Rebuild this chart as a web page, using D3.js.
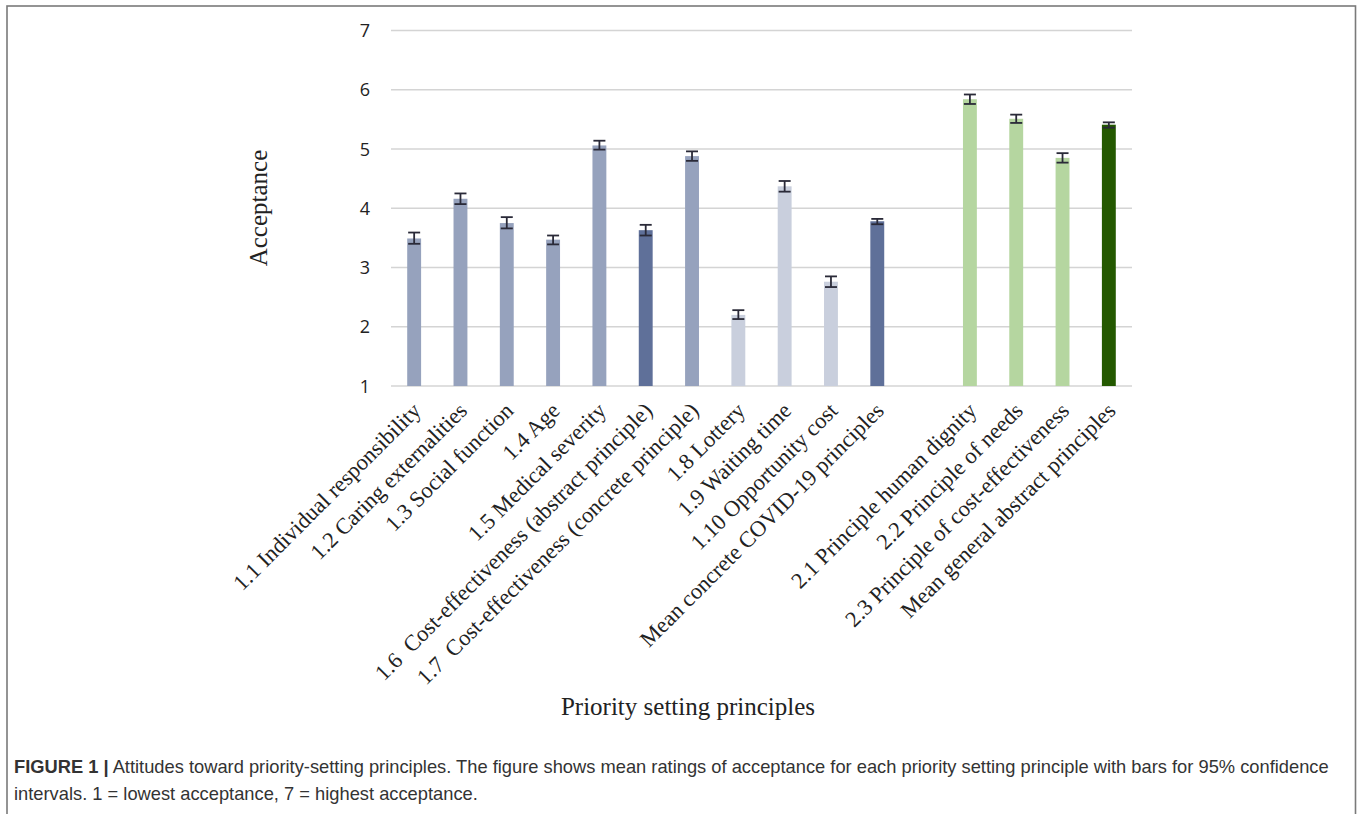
<!DOCTYPE html>
<html><head><meta charset="utf-8">
<script src="https://cdn.jsdelivr.net/npm/d3@7"></script>
<style>
html,body{margin:0;padding:0;background:#fff;}
svg{display:block;}
</style></head>
<body>
<svg id="chart" width="1360" height="814"></svg>
<script>
const categories = [
  "1.1 Individual responsibility",
  "1.2 Caring externalities",
  "1.3 Social function",
  "1.4 Age",
  "1.5 Medical severity",
  "1.6  Cost-effectiveness (abstract principle)",
  "1.7  Cost-effectiveness (concrete principle)",
  "1.8 Lottery",
  "1.9 Waiting time",
  "1.10 Opportunity cost",
  "Mean concrete COVID-19 principles",
  "",
  "2.1 Principle human dignity",
  "2.2 Principle of needs",
  "2.3 Principle of cost-effectiveness",
  "Mean general abstract principles"
];
const means = [3.49, 4.16, 3.75, 3.47, 5.06, 3.63, 4.88, 2.20, 4.37, 2.76, 3.78, null, 5.84, 5.51, 4.85, 5.41];
const ciLow  = [3.40, 4.07, 3.66, 3.39, 4.99, 3.54, 4.80, 2.13, 4.28, 2.67, 3.73, null, 5.76, 5.44, 4.77, 5.36];
const ciHigh = [3.59, 4.25, 3.85, 3.54, 5.14, 3.72, 4.96, 2.28, 4.46, 2.85, 3.82, null, 5.92, 5.58, 4.93, 5.45];
const groups = ["mid","mid","mid","mid","mid","dark","mid","light","light","light","dark",null,"green","green","green","darkgreen"];
const yTicks = [1, 2, 3, 4, 5, 6, 7];
const yTitle = "Acceptance";
const xTitle = "Priority setting principles";
const captionBold = "FIGURE 1 |";
const captionLine1 = " Attitudes toward priority-setting principles. The figure shows mean ratings of acceptance for each priority setting principle with bars for 95% confidence";
const captionLine2 = "intervals. 1 = lowest acceptance, 7 = highest acceptance.";

const colors = {mid:"#96a2bd", dark:"#5f7099", light:"#c9cfdd", green:"#b5d6a0", darkgreen:"#245900"};

(function(){
const svg = d3.select("#chart");
const pLeft = 391, pRight = 1132, pTop = 30.5, pBottom = 386;

// frame
svg.append("rect").attr("x",7).attr("y",6).attr("width",1348.5).attr("height",840)
  .attr("fill","none").attr("stroke","#7a7a7a").attr("stroke-width",1.6);

const keys = categories.map((c,i)=>"k"+i);
const x = d3.scaleBand().domain(keys).range([pLeft,pRight]).paddingInner(0.7).paddingOuter(0.35);
const y = d3.scaleLinear().domain([1,7]).range([pBottom, pTop]);

// gridlines
svg.append("g").selectAll("line").data(yTicks).join("line")
  .attr("x1",pLeft).attr("x2",pRight)
  .attr("y1",d=>y(d)).attr("y2",d=>y(d))
  .attr("stroke","#d4d4d4").attr("stroke-width",1.6);

// y axis labels
const yAxis = d3.axisLeft(y).tickValues(yTicks).tickSize(0).tickPadding(0).tickFormat(d3.format("d"));
const ya = svg.append("g").attr("transform",`translate(${pLeft-21},0)`).call(yAxis);
ya.select(".domain").remove();
ya.selectAll("text").attr("font-family","'Open Sans', sans-serif").attr("font-size",18).attr("fill","#222").attr("dy","0.34em");

// bars
const data = categories.map((c,i)=>({key:keys[i], cat:c, m:means[i], lo:ciLow[i], hi:ciHigh[i], g:groups[i]})).filter(d=>d.m!==null);
svg.append("g").selectAll("rect").data(data).join("rect")
  .attr("x",d=>x(d.key)).attr("width",x.bandwidth())
  .attr("y",d=>y(d.m)).attr("height",d=>y(1)-y(d.m))
  .attr("fill",d=>colors[d.g]);

// error bars
const eb = svg.append("g").attr("stroke","#2a2a38").attr("stroke-width",1.8).attr("fill","none");
data.forEach(d=>{
  const cx = x(d.key)+x.bandwidth()/2;
  eb.append("line").attr("x1",cx).attr("x2",cx).attr("y1",y(d.hi)).attr("y2",y(d.lo));
  eb.append("line").attr("x1",cx-6).attr("x2",cx+6).attr("y1",y(d.hi)).attr("y2",y(d.hi));
  eb.append("line").attr("x1",cx-6).attr("x2",cx+6).attr("y1",y(d.lo)).attr("y2",y(d.lo));
});

// x category labels
svg.append("g").selectAll("text").data(categories.map((c,i)=>({c, k:keys[i]})).filter(d=>d.c!==""))
  .join("text")
  .attr("transform",d=>`translate(${x(d.k)+x.bandwidth()/2+8},${pBottom+26}) rotate(-45)`)
  .attr("text-anchor","end")
  .attr("font-family","'Liberation Serif', 'Times New Roman', serif")
  .attr("font-size",22.5).attr("fill","#222")
  .style("white-space","pre")
  .text(d=>d.c);

// axis titles
svg.append("text").attr("transform",`translate(267,208) rotate(-90)`)
  .attr("text-anchor","middle").attr("font-family","'Liberation Serif', serif").attr("font-size",25).attr("fill","#222")
  .text(yTitle);
svg.append("text").attr("x",688).attr("y",715)
  .attr("text-anchor","middle").attr("font-family","'Liberation Serif', serif").attr("font-size",25).attr("fill","#222")
  .text(xTitle);

// caption
const cap1 = svg.append("text").attr("x",14).attr("y",773).attr("font-family","'Liberation Sans', Arial, sans-serif").attr("font-size",15.5).attr("fill","#333");
cap1.append("tspan").attr("font-weight","bold").text(captionBold);
cap1.append("tspan").style("white-space","pre").text(captionLine1);
const cap2 = svg.append("text").attr("x",14).attr("y",800).attr("font-family","'Liberation Sans', Arial, sans-serif").attr("font-size",15.5).attr("fill","#333").text(captionLine2);
// fit caption width to reference layout
const w1 = cap1.node().getComputedTextLength();
const fs = 15.5*1316/w1;
cap1.attr("font-size",fs); cap2.attr("font-size",fs);
})();
</script>
</body></html>
